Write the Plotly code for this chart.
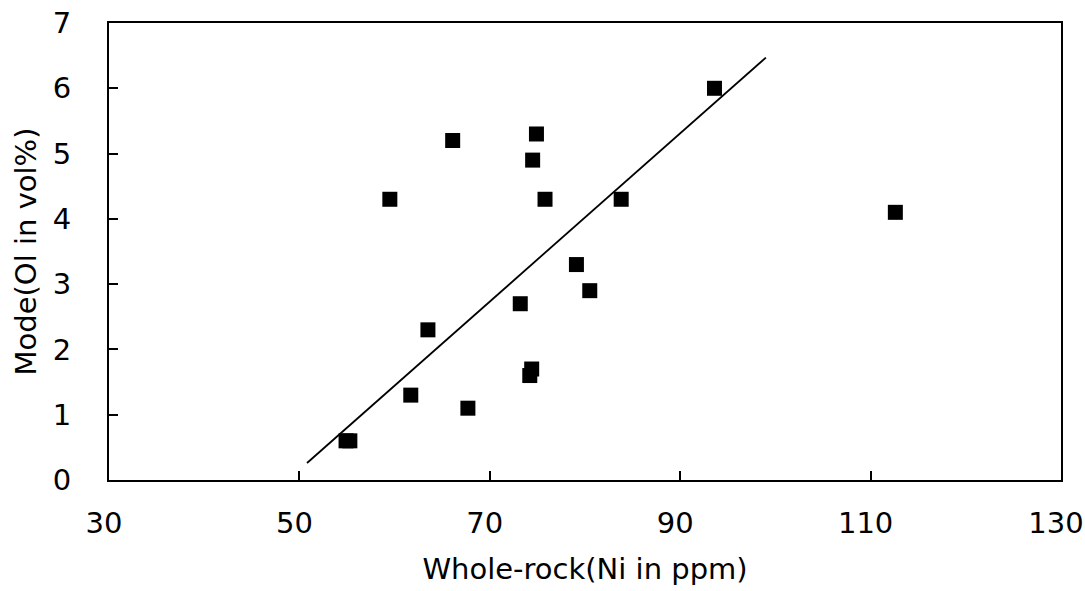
import plotly.graph_objects as go

ni_ppm = [54.9, 55.3, 59.5, 61.7, 63.5, 66.1, 67.7, 73.2, 74.2, 74.4, 74.5, 74.9, 75.8, 79.1, 80.5, 83.8, 93.6, 112.6]
ol_vol = [0.6, 0.6, 4.3, 1.3, 2.3, 5.2, 1.1, 2.7, 1.6, 1.7, 4.9, 5.3, 4.3, 3.3, 2.9, 4.3, 6.0, 4.1]

fit_x = [50.8, 99.0]
fit_y = [0.26, 6.47]

x_ticks = [30, 50, 70, 90, 110, 130]
y_ticks = [0, 1, 2, 3, 4, 5, 6, 7]

font_family = "DejaVu Sans, Liberation Sans, Arial, sans-serif"

fig = go.Figure()
fig.add_trace(go.Scatter(x=fit_x, y=fit_y, mode="lines",
                         line=dict(color="black", width=1.8), showlegend=False))
fig.add_trace(go.Scatter(x=ni_ppm, y=ol_vol, mode="markers",
                         marker=dict(symbol="square", size=15, color="black"),
                         showlegend=False))

fig.update_layout(
    width=1085, height=591,
    margin=dict(l=109, r=24, t=23, b=111),
    paper_bgcolor="white", plot_bgcolor="white",
    font=dict(family=font_family, size=29, color="black"),
    xaxis=dict(range=[30, 130], tickvals=x_ticks, showgrid=False, zeroline=False,
               showline=True, linecolor="black", linewidth=2, mirror=True,
               ticks="inside", ticklen=9, tickcolor="black", tickwidth=1.5,
               ticklabelstandoff=16, ticklabelshift=-5, ticklabeloverflow="allow",
               automargin=False,
               title=dict(text="Whole-rock(Ni in ppm)", standoff=20, font=dict(size=29))),
    yaxis=dict(range=[0, 7], tickvals=y_ticks, showgrid=False, zeroline=False,
               showline=True, linecolor="black", linewidth=2, mirror=True,
               ticks="inside", ticklen=9, tickcolor="black", tickwidth=1.5,
               ticklabelstandoff=30, ticklabeloverflow="allow", automargin=False,
               title=dict(text="Mode(Ol in vol%)", standoff=8, font=dict(size=29))),
)

fig.write_html("out.html")
